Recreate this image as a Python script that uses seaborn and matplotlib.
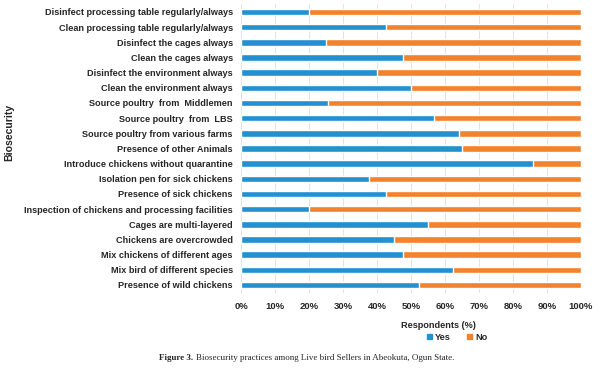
import pandas as pd
import seaborn as sns
import matplotlib.pyplot as plt
from matplotlib.ticker import PercentFormatter
from matplotlib.patches import Patch

practices = [
    "Disinfect processing table regularly/always",
    "Clean processing table regularly/always",
    "Disinfect the cages always",
    "Clean the cages always",
    "Disinfect the environment always",
    "Clean the environment always",
    "Source poultry  from  Middlemen",
    "Source poultry  from  LBS",
    "Source poultry from various farms",
    "Presence of other Animals",
    "Introduce chickens without quarantine",
    "Isolation pen for sick chickens",
    "Presence of sick chickens",
    "Inspection of chickens and processing facilities",
    "Cages are multi-layered",
    "Chickens are overcrowded",
    "Mix chickens of different ages",
    "Mix bird of different species",
    "Presence of wild chickens",
]
yes = [20, 42.5, 25, 47.5, 40, 50, 25.7, 56.7, 64, 65, 86, 37.5, 42.5, 20, 55, 45, 47.5, 62.5, 52.5]
no = [100 - v for v in yes]

df = pd.DataFrame({"Practice": practices, "Yes": yes, "No": no})
df["Total"] = df["Yes"] + df["No"]

blue = "#2390d0"
orange = "#f3822c"

sns.set_style("white")
plt.rcParams["font.family"] = ["Liberation Sans", "DejaVu Sans"]

fig = plt.figure(figsize=(6, 3.68), dpi=100)
ax = fig.add_axes([0.4017, 0.205, 0.5666, 0.783])

# stacked bars: full bar in orange, yes part in blue on top
sns.barplot(data=df, x="Total", y="Practice", color=orange, width=0.42, ax=ax, saturation=1)
sns.barplot(data=df, x="Yes", y="Practice", color=blue, width=0.42, ax=ax, saturation=1)

ax.set_xlim(0, 100)
ax.set_xticks(range(0, 101, 10))
ax.xaxis.set_major_formatter(PercentFormatter(decimals=0))
ax.grid(axis="x", color="#dddddd", linewidth=0.6)
ax.set_axisbelow(True)
for s in ax.spines.values():
    s.set_visible(False)
ax.tick_params(axis="both", length=0)
ax.tick_params(axis="x", pad=7, labelsize=6.8)
ax.tick_params(axis="y", pad=6, labelsize=6.6)
for lbl in ax.get_xticklabels() + ax.get_yticklabels():
    lbl.set_fontweight("bold")
ax.set_xlabel("")
ax.set_ylabel("")

fig.text(0.016, 0.639, "Biosecurity", rotation=90, fontsize=7.6, fontweight="bold",
         ha="center", va="center")

fig.text(0.73, 0.115, "Respondents (%)", fontsize=6.6, fontweight="bold",
         ha="center", va="center")
handles = [Patch(color=blue, label="Yes"), Patch(color=orange, label="No")]
leg = fig.legend(handles=handles, loc="center", bbox_to_anchor=(0.762, 0.084), ncol=2,
                 frameon=False, fontsize=6.6,
                 handlelength=0.55, handleheight=0.55, handletextpad=0.35,
                 columnspacing=1.8, borderpad=0)
for t in leg.get_texts():
    t.set_fontweight("bold")

fig.text(0.322, 0.027, "Figure 3.", fontsize=6.45, fontweight="bold",
         family="Liberation Serif", ha="right", va="center")
fig.text(0.326, 0.027, "Biosecurity practices among Live bird Sellers in Abeokuta, Ogun State.",
         fontsize=6.45, family="Liberation Serif", ha="left", va="center")

fig.savefig("out.png", dpi=100)
